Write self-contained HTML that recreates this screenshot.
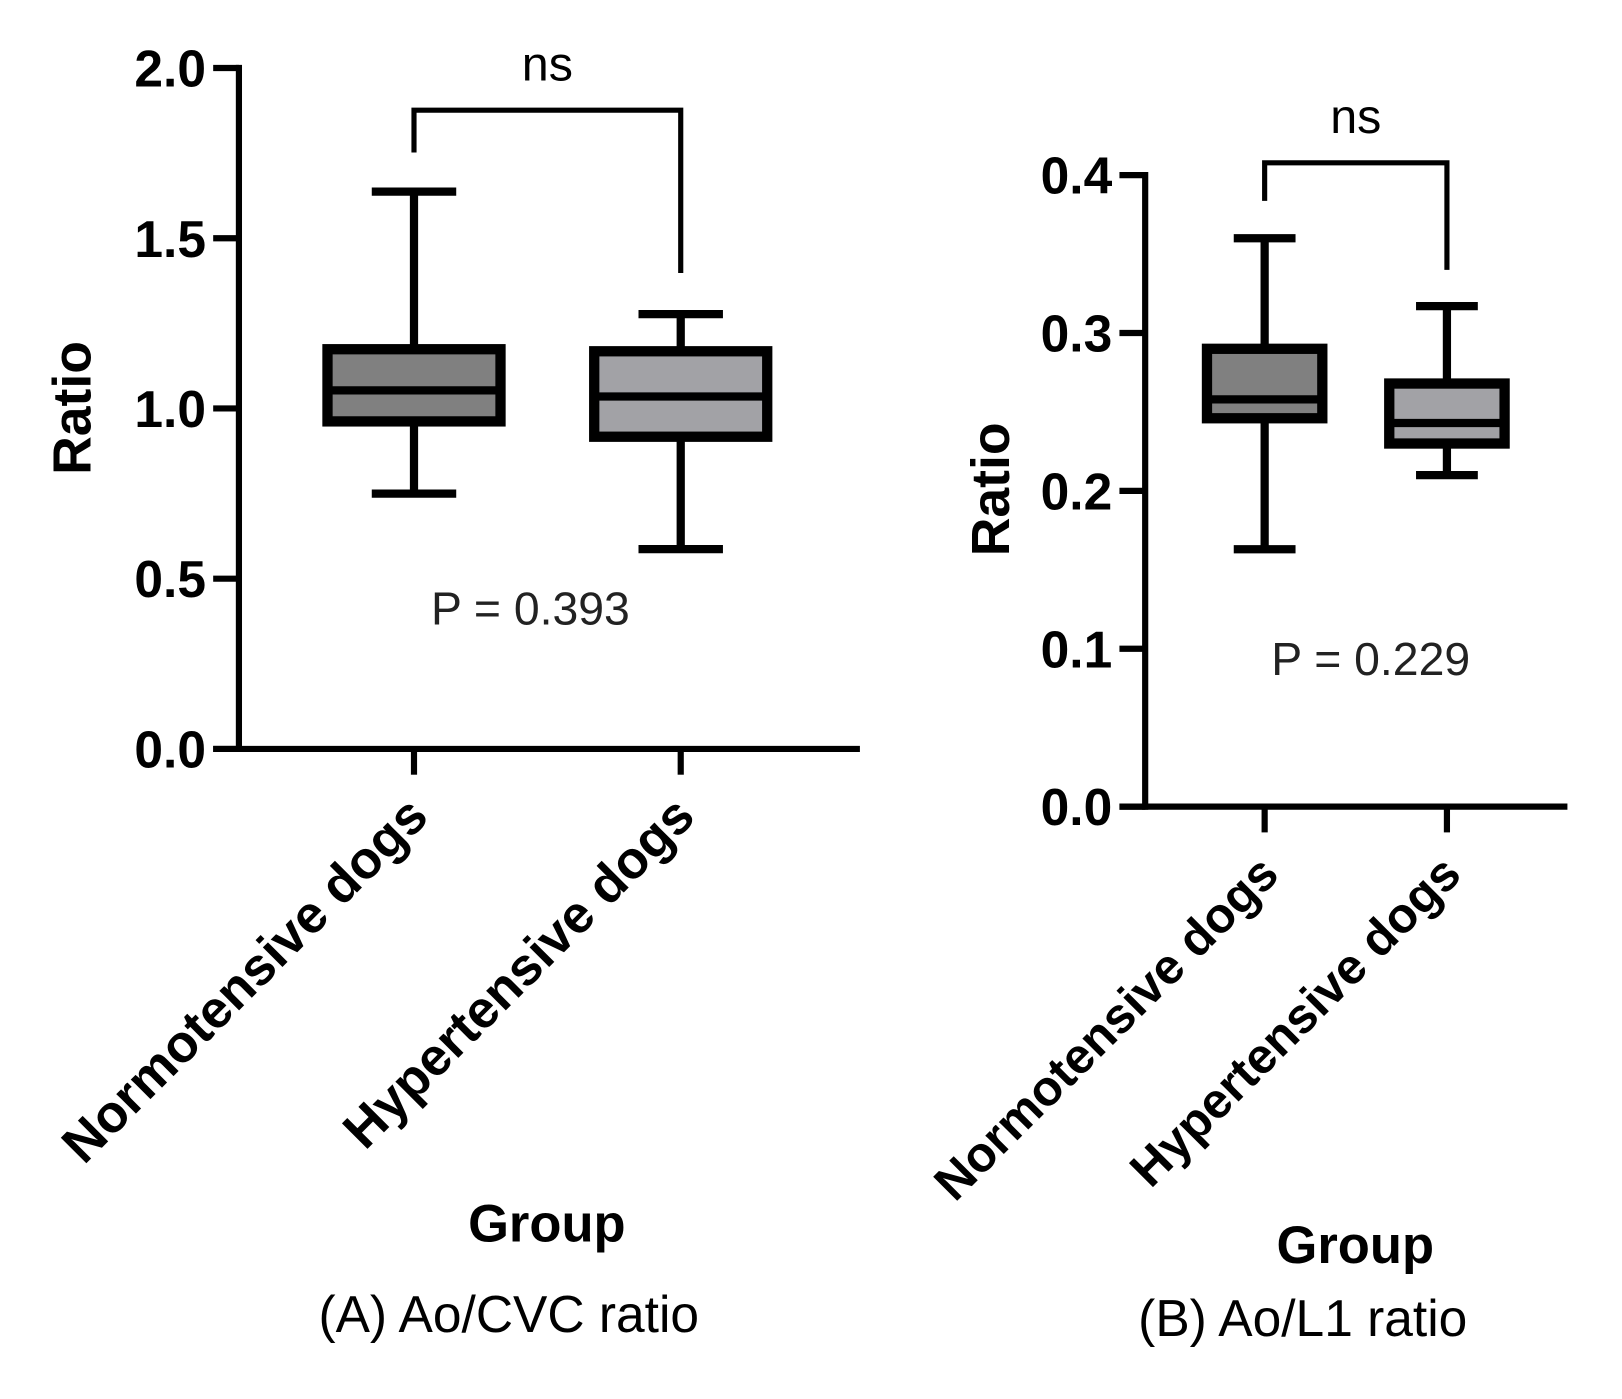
<!DOCTYPE html>
<html><head><meta charset="utf-8"><style>
html,body{margin:0;padding:0;background:#fff;}
svg{display:block;font-family:"Liberation Sans",Arial,sans-serif;}
</style></head><body>
<svg id="chart" width="1622" height="1399" viewBox="0 0 1575 1358" preserveAspectRatio="none" xmlns="http://www.w3.org/2000/svg"></svg>
<script>
// Panel A data
const catsA = ["Normotensive dogs", "Hypertensive dogs"];
const whiskerLowA = [0.75, 0.587];
const q1A = [0.962, 0.917];
const medianA = [1.053, 1.035];
const q3A = [1.174, 1.168];
const whiskerHighA = [1.637, 1.277];
const ticksA = [0.0, 0.5, 1.0, 1.5, 2.0];
const tickLabelsA = ["0.0", "0.5", "1.0", "1.5", "2.0"];
// Panel B data
const catsB = ["Normotensive dogs", "Hypertensive dogs"];
const whiskerLowB = [0.163, 0.210];
const q1B = [0.246, 0.230];
const medianB = [0.258, 0.243];
const q3B = [0.290, 0.268];
const whiskerHighB = [0.360, 0.317];
const ticksB = [0.0, 0.1, 0.2, 0.3, 0.4];
const tickLabelsB = ["0.0", "0.1", "0.2", "0.3", "0.4"];
const fills = ["#808080", "#a2a2a6"];

const NS = "http://www.w3.org/2000/svg";
const svg = document.getElementById("chart");
function mk(tag, attrs, parent, text) {
  const e = document.createElementNS(NS, tag);
  for (const k in attrs) e.setAttribute(k, attrs[k]);
  if (text !== undefined) e.textContent = text;
  (parent || svg).appendChild(e);
  return e;
}

function panel(cfg) {
  const g = mk("g", {});
  
  
  const y = v => cfg.y0 - (v - cfg.vmin) / (cfg.vmax - cfg.vmin) * (cfg.y0 - cfg.y1);
  const x = i => cfg.cx[i];
  const ya = mk("line", {x1: cfg.ax, y1: y(cfg.vmax) - 3, x2: cfg.ax, y2: cfg.y0 + 3, stroke: "#000", "stroke-width": 6}, g);
  
  
  const xa = mk("line", {x1: cfg.ax - 25, y1: cfg.y0, x2: cfg.xend, y2: cfg.y0, stroke: "#000", "stroke-width": 6}, g);
  
  
  cfg.ticks.forEach((t, i) => {
    const tk = mk("line", {x1: cfg.ax - 25, y1: y(t), x2: cfg.ax, y2: y(t), stroke: "#000", "stroke-width": 6}, g);
    
    
    const tl = mk("text", {x: cfg.ax - 32, y: y(t) + 18, "text-anchor": "end", "font-size": 50, "font-weight": "bold"}, g, cfg.tickLabels[i]);
    
    
  });
  cfg.cats.forEach((c, i) => {
    const xt = mk("line", {x1: x(i), y1: cfg.y0, x2: x(i), y2: cfg.y0 + 25, stroke: "#000", "stroke-width": 6}, g);
    
    
    const lx = x(i) + 16, ly = cfg.y0 + 68;
    const cl = mk("text", {x: lx, y: ly, "text-anchor": "end", "font-size": cfg.catFont, "font-weight": "bold", transform: `rotate(-45 ${lx} ${ly})`}, g, c);
    
    
    const w = mk("line", {x1: x(i), y1: y(cfg.wl[i]), x2: x(i), y2: y(cfg.wh[i]), stroke: "#000", "stroke-width": 8}, g);
    
    
    [cfg.wl[i], cfg.wh[i]].forEach(v => {
      const cap = mk("line", {x1: x(i) - cfg.cap, y1: y(v), x2: x(i) + cfg.cap, y2: y(v), stroke: "#000", "stroke-width": 8}, g);
      
      
    });
    const b = mk("rect", {x: x(i) - cfg.hw, y: y(cfg.q3[i]), width: 2 * cfg.hw, height: y(cfg.q1[i]) - y(cfg.q3[i]), fill: fills[i], stroke: "#000", "stroke-width": 10}, g);
    
    
    const m = mk("line", {x1: x(i) - cfg.hw, y1: y(cfg.med[i]), x2: x(i) + cfg.hw, y2: y(cfg.med[i]), stroke: "#000", "stroke-width": 8}, g);
    
    
  });
  const br = mk("polyline", {points: `${x(0)},${cfg.brL} ${x(0)},${cfg.brY} ${x(1)},${cfg.brY} ${x(1)},${cfg.brR}`, fill: "none", stroke: "#000", "stroke-width": 5}, g);
  
  
  const ns = mk("text", {x: (x(0) + x(1)) / 2, y: cfg.brY - 29, "text-anchor": "middle", "font-size": 47}, g, "ns");
  
  
  const p = mk("text", {x: cfg.px, y: cfg.py, "text-anchor": "middle", "font-size": 45, fill: "#222"}, g, cfg.ptext);
  
  
  const yt = mk("text", {x: 0, y: 0, "text-anchor": "middle", "font-size": 52, "font-weight": "bold", transform: `translate(${cfg.ylx},${cfg.yly}) rotate(-90)`}, g, "Ratio");
  
  
  const xt = mk("text", {x: cfg.gx, y: cfg.gy, "text-anchor": "middle", "font-size": 51, "font-weight": "bold"}, g, "Group");
  
  
  const cap = mk("text", {x: cfg.capx, y: cfg.capy, "text-anchor": "middle", "font-size": 50}, g, cfg.caption);
  
  
}

panel({name: "panel-a", ax: 232, y0: 727, y1: 66, vmin: 0, vmax: 2, xend: 835, cx: [402, 661], hw: 84, cap: 41,
  ticks: ticksA, tickLabelsA: null, tickLabels: tickLabelsA, cats: catsA, wl: whiskerLowA, q1: q1A, med: medianA, q3: q3A, wh: whiskerHighA,
  brY: 107, brL: 148, brR: 265, px: 515, py: 606, ptext: "P = 0.393", catFont: 51,
  ylx: 88, yly: 396, gx: 531, gy: 1205, capx: 494, capy: 1293, caption: "(A) Ao/CVC ratio"});
panel({name: "panel-b", ax: 1112, y0: 783, y1: 170, vmin: 0, vmax: 0.4, xend: 1522, cx: [1228, 1405], hw: 56, cap: 30,
  ticks: ticksB, tickLabels: tickLabelsB, cats: catsB, wl: whiskerLowB, q1: q1B, med: medianB, q3: q3B, wh: whiskerHighB,
  brY: 158, brL: 195, brR: 262, px: 1331, py: 655, ptext: "P = 0.229", catFont: 48,
  ylx: 980, yly: 475, gx: 1316, gy: 1226, capx: 1265, capy: 1297, caption: "(B) Ao/L1 ratio"});
</script>
</body></html>
